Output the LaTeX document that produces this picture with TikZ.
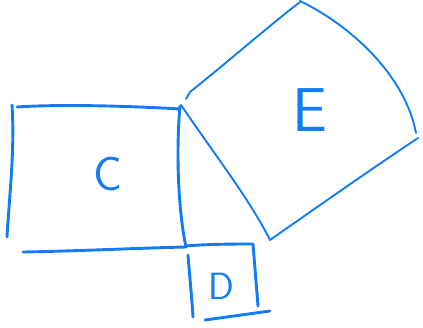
\documentclass[tikz,border=0pt]{standalone}
\usepackage{tikz}
\usetikzlibrary{calc}
\definecolor{penblue}{RGB}{18,124,246}

\begin{document}
\begin{tikzpicture}[x=1pt,y=-1pt,
        pen/.style={draw=penblue,line width=2.9pt,line cap=round,line join=round},
        thinpen/.style={pen,line width=1.9pt},
        letter/.style={text=penblue,font=\sffamily\fontsize{#1}{#1}\selectfont,inner sep=0pt}]
        \useasboundingbox (0,0) rectangle (423,327);
        \draw[pen] (17,107) .. controls (60,104) and (130,106) .. (180,109);
        \draw[pen] (12,105) .. controls (15,150) and (9,200) .. (7,237);
        \draw[pen] (23,252) .. controls (80,251) and (140,248) .. (186,247);
        \draw[pen] (180,106) .. controls (176,150) and (178,210) .. (186,247);
        \draw[thinpen] (181,105) .. controls (215,155) and (250,200) .. (270,240);
        \draw[thinpen] (186,99) -- (190,92) .. controls (230,60) and (270,25) .. (300,2);
        \draw[thinpen] (300,1) .. controls (350,25) and (405,75) .. (416,133);
        \draw[thinpen] (418,138) .. controls (370,170) and (320,205) .. (270,240);
        \draw[pen] (185,246) .. controls (210,244) and (235,244) .. (253,244) -- (258,306);
        \draw[pen] (188,255) .. controls (190,280) and (192,300) .. (193,317);
        \draw[pen] (205,320) -- (270,311);
        \node[letter=48] (labelC) at (108,174) {C};
        \node[letter=62] (labelE) at (310,110) {E};
        \node[letter=38] (labelD) at (221,286) {D};
    \end{tikzpicture}
\end{document}
